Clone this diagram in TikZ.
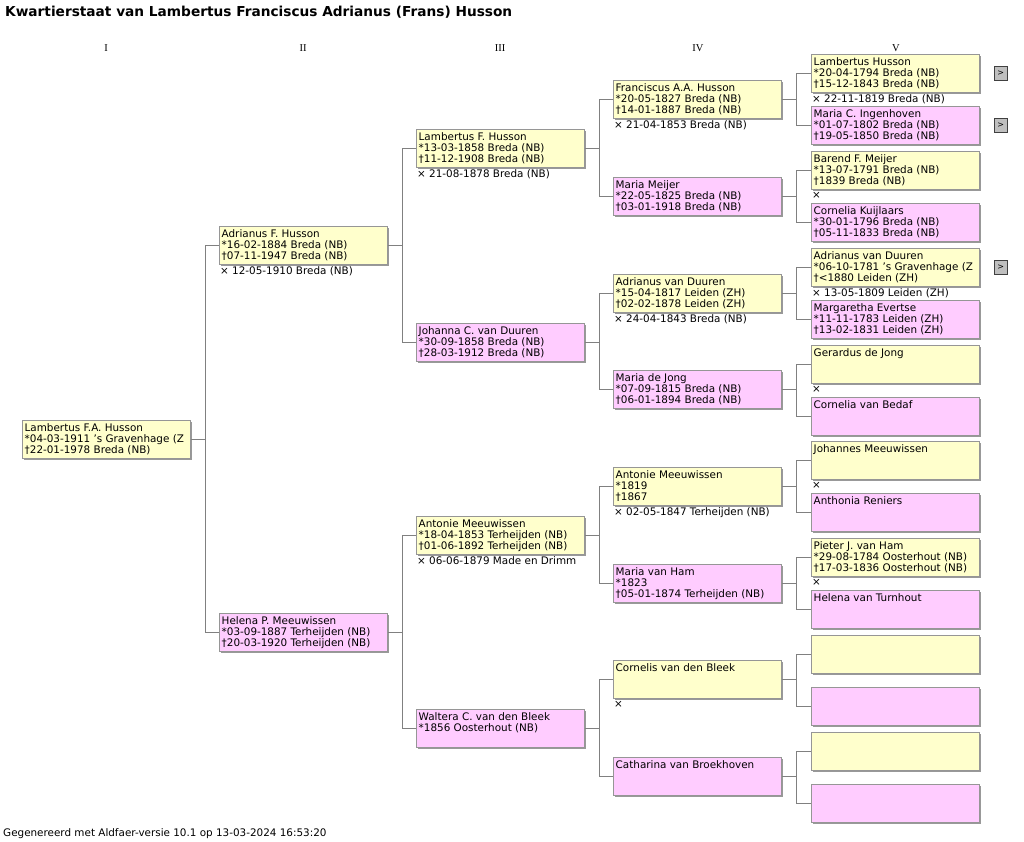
\documentclass[tikz,border=0pt]{standalone}
\usepackage{fontspec}
\setmainfont{DejaVu Sans}
\newfontfamily\kolomfont{Liberation Serif}
\usetikzlibrary{positioning, shadows}
\definecolor{geel}{RGB}{255, 255, 204}
\definecolor{roze}{RGB}{255, 204, 255}
\definecolor{rand}{RGB}{150, 150, 150}
\definecolor{lijnkleur}{RGB}{128, 128, 128}
\newcommand{\kwfont}{\fontsize{10.4}{11}\selectfont}

\tikzset{
  kw/.style={draw=rand, line width=0.8pt, minimum width=168pt, minimum height=38pt,
    anchor=north west, inner sep=0pt,
    drop shadow={shadow xshift=1.2pt, shadow yshift=-1.2pt, fill=black!40, opacity=1}},
  tekst/.style={anchor=north west, align=left, inner xsep=2.5pt, inner ysep=3.5pt, font=\kwfont},
  huwtekst/.style={anchor=north west, inner xsep=1pt, inner ysep=2pt, font=\kwfont},
  man/.style={kw, fill=geel, label={[tekst]north west:{#1}}},
  man/.default={},
  vrouw/.style={kw, fill=roze, label={[tekst]north west:{#1}}},
  vrouw/.default={},
  huw/.style={label={[huwtekst]south west:{× #1}}},
  huw/.default={},
  knop/.style={draw=black!75, fill=black!25, minimum size=13.5pt, inner sep=0pt,
    font=\fontsize{8}{8}\selectfont},
  lijn/.style={draw=lijnkleur, line width=1.1pt},
  kolom/.style={font=\kolomfont\fontsize{10.5}{11}\selectfont}
}

\begin{document}
\begin{tikzpicture}[x=1pt, y=-1pt]
    \useasboundingbox (0,0) rectangle (1024,841);

    % titel en kolomkoppen
    \node[anchor=west, inner sep=0pt, font=\bfseries\fontsize{13.7}{15}\selectfont] (titel) at (5,12)
        {Kwartierstaat van Lambertus Franciscus Adrianus (Frans) Husson};
    \node[kolom] (kI) at (106,48) {I};
    \node[kolom] (kII) at (303,48) {II};
    \node[kolom] (kIII) at (500,48) {III};
    \node[kolom] (kIV) at (698,48) {IV};
    \node[kolom] (kV) at (896,48) {V};

    % I: kwartierdrager
    \node[man={Lambertus F.A. Husson\\{}*04-03-1911 's Gravenhage (Z\\{}†22-01-1978 Breda (NB)}] (k1) at (22,420) {};

    % II: ouders
    \node[man={Adrianus F. Husson\\{}*16-02-1884 Breda (NB)\\{}†07-11-1947 Breda (NB)}, huw={12-05-1910 Breda (NB)}] (k2) at (219,226) {};
    \node[vrouw={Helena P. Meeuwissen\\{}*03-09-1887 Terheijden (NB)\\{}†20-03-1920 Terheijden (NB)}] (k3) at (219,613) {};

    % III: grootouders
    \node[man={Lambertus F. Husson\\{}*13-03-1858 Breda (NB)\\{}†11-12-1908 Breda (NB)}, huw={21-08-1878 Breda (NB)}] (k4) at (416,129) {};
    \node[vrouw={Johanna C. van Duuren\\{}*30-09-1858 Breda (NB)\\{}†28-03-1912 Breda (NB)}] (k5) at (416,323) {};
    \node[man={Antonie Meeuwissen\\{}*18-04-1853 Terheijden (NB)\\{}†01-06-1892 Terheijden (NB)}, huw={06-06-1879 Made en Drimm}] (k6) at (416,516) {};
    \node[vrouw={Waltera C. van den Bleek\\{}*1856 Oosterhout (NB)}] (k7) at (416,709) {};

    % IV: overgrootouders
    \node[man={Franciscus A.A. Husson\\{}*20-05-1827 Breda (NB)\\{}†14-01-1887 Breda (NB)}, huw={21-04-1853 Breda (NB)}] (k8) at (613,80) {};
    \node[vrouw={Maria Meijer\\{}*22-05-1825 Breda (NB)\\{}†03-01-1918 Breda (NB)}] (k9) at (613,177) {};
    \node[man={Adrianus van Duuren\\{}*15-04-1817 Leiden (ZH)\\{}†02-02-1878 Leiden (ZH)}, huw={24-04-1843 Breda (NB)}] (k10) at (613,274) {};
    \node[vrouw={Maria de Jong\\{}*07-09-1815 Breda (NB)\\{}†06-01-1894 Breda (NB)}] (k11) at (613,370) {};
    \node[man={Antonie Meeuwissen\\{}*1819\\{}†1867}, huw={02-05-1847 Terheijden (NB)}] (k12) at (613,467) {};
    \node[vrouw={Maria van Ham\\{}*1823\\{}†05-01-1874 Terheijden (NB)}] (k13) at (613,564) {};
    \node[man={Cornelis van den Bleek}, huw] (k14) at (613,660) {};
    \node[vrouw={Catharina van Broekhoven}] (k15) at (613,757) {};

    % V: betovergrootouders
    \node[man={Lambertus Husson\\{}*20-04-1794 Breda (NB)\\{}†15-12-1843 Breda (NB)}, huw={22-11-1819 Breda (NB)}] (k16) at (811,54) {};
    \node[vrouw={Maria C. Ingenhoven\\{}*01-07-1802 Breda (NB)\\{}†19-05-1850 Breda (NB)}] (k17) at (811,106) {};
    \node[man={Barend F. Meijer\\{}*13-07-1791 Breda (NB)\\{}†1839 Breda (NB)}, huw] (k18) at (811,151) {};
    \node[vrouw={Cornelia Kuijlaars\\{}*30-01-1796 Breda (NB)\\{}†05-11-1833 Breda (NB)}] (k19) at (811,203) {};
    \node[man={Adrianus van Duuren\\{}*06-10-1781 's Gravenhage (Z\\{}†<1880 Leiden (ZH)}, huw={13-05-1809 Leiden (ZH)}] (k20) at (811,248) {};
    \node[vrouw={Margaretha Evertse\\{}*11-11-1783 Leiden (ZH)\\{}†13-02-1831 Leiden (ZH)}] (k21) at (811,300) {};
    \node[man={Gerardus de Jong}, huw] (k22) at (811,345) {};
    \node[vrouw={Cornelia van Bedaf}] (k23) at (811,397) {};
    \node[man={Johannes Meeuwissen}, huw] (k24) at (811,441) {};
    \node[vrouw={Anthonia Reniers}] (k25) at (811,493) {};
    \node[man={Pieter J. van Ham\\{}*29-08-1784 Oosterhout (NB)\\{}†17-03-1836 Oosterhout (NB)}, huw] (k26) at (811,538) {};
    \node[vrouw={Helena van Turnhout}] (k27) at (811,590) {};
    \node[man] (k28) at (811,635) {};
    \node[vrouw] (k29) at (811,687) {};
    \node[man] (k30) at (811,732) {};
    \node[vrouw] (k31) at (811,784) {};

    % knoppen naar volgende generatie
    \node[knop, right=14pt of k16] (n16) {>};
    \node[knop, right=14pt of k17] (n17) {>};
    \node[knop, right=14pt of k20] (n20) {>};

    % lijnen kind -> vader en moeder
    \draw[lijn] (k1.east) -- ++(15,0) coordinate (s1) |- (k2.west) (s1) |- (k3.west);
    \draw[lijn] (k2.east) -- ++(15,0) coordinate (s2) |- (k4.west) (s2) |- (k5.west);
    \draw[lijn] (k3.east) -- ++(15,0) coordinate (s3) |- (k6.west) (s3) |- (k7.west);
    \draw[lijn] (k4.east) -- ++(15,0) coordinate (s4) |- (k8.west) (s4) |- (k9.west);
    \draw[lijn] (k5.east) -- ++(15,0) coordinate (s5) |- (k10.west) (s5) |- (k11.west);
    \draw[lijn] (k6.east) -- ++(15,0) coordinate (s6) |- (k12.west) (s6) |- (k13.west);
    \draw[lijn] (k7.east) -- ++(15,0) coordinate (s7) |- (k14.west) (s7) |- (k15.west);
    \draw[lijn] (k8.east) -- ++(15,0) coordinate (s8) |- (k16.west) (s8) |- (k17.west);
    \draw[lijn] (k9.east) -- ++(15,0) coordinate (s9) |- (k18.west) (s9) |- (k19.west);
    \draw[lijn] (k10.east) -- ++(15,0) coordinate (s10) |- (k20.west) (s10) |- (k21.west);
    \draw[lijn] (k11.east) -- ++(15,0) coordinate (s11) |- (k22.west) (s11) |- (k23.west);
    \draw[lijn] (k12.east) -- ++(15,0) coordinate (s12) |- (k24.west) (s12) |- (k25.west);
    \draw[lijn] (k13.east) -- ++(15,0) coordinate (s13) |- (k26.west) (s13) |- (k27.west);
    \draw[lijn] (k14.east) -- ++(15,0) coordinate (s14) |- (k28.west) (s14) |- (k29.west);
    \draw[lijn] (k15.east) -- ++(15,0) coordinate (s15) |- (k30.west) (s15) |- (k31.west);

    % voetregel
    \node[anchor=west, inner sep=0pt, font=\kwfont] (voet) at (3,834)
        {Gegenereerd met Aldfaer-versie 10.1 op 13-03-2024 16:53:20};
\end{tikzpicture}
\end{document}
